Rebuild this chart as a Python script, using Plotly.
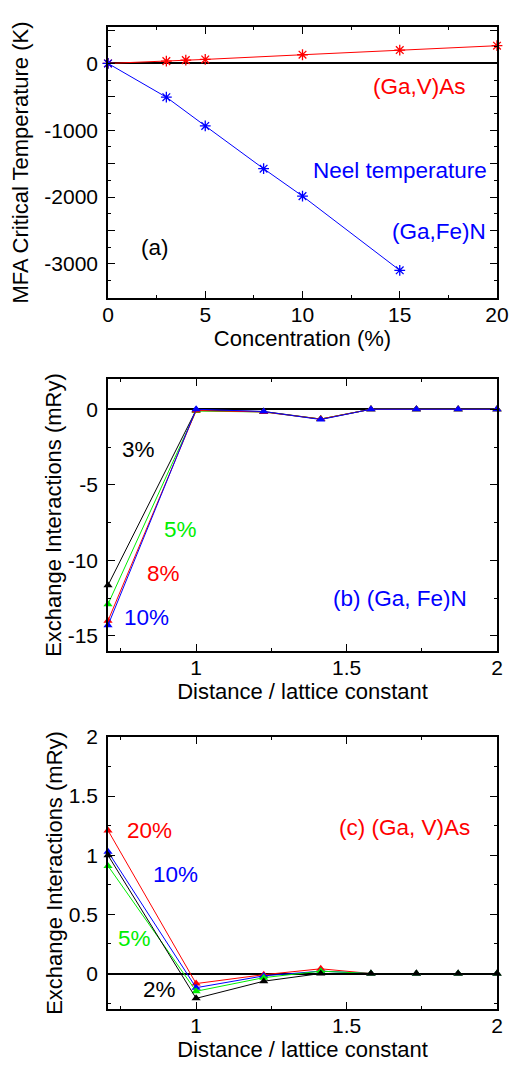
import plotly.graph_objects as go

# ---------------- data ----------------
# Panel (a): MFA critical temperature vs concentration
conc_gav = [0, 3, 4, 5, 10, 15, 20]
tc_gav = [0, 34, 50, 60, 130, 200, 265]
conc_gafen = [0, 3, 5, 8, 10, 15]
tc_gafen = [0, -505, -935, -1575, -1985, -3095]

# Panels (b), (c): exchange interactions vs distance / lattice constant
dist = [0.7071, 1.0, 1.2247, 1.4142, 1.5811, 1.7321, 1.8708, 2.0]
# (b) (Ga,Fe)N
jb_3 = [-11.65, -0.05, -0.15, -0.65, 0, 0, 0, 0]
jb_5 = [-12.9, -0.12, -0.18, -0.65, 0, 0, 0, 0]
jb_8 = [-14.0, -0.08, -0.18, -0.65, 0, 0, 0, 0]
jb_10 = [-14.3, 0.0, -0.15, -0.68, 0, 0, 0, 0]
# (c) (Ga,V)As
jc_20 = [1.21, -0.085, -0.01, 0.04, 0, 0, 0, 0]
jc_10 = [1.03, -0.12, -0.02, 0.02, 0, 0, 0, 0]
jc_5 = [0.91, -0.15, -0.035, 0.02, 0, 0, 0, 0]
jc_2 = [1.0, -0.21, -0.065, 0.0, 0, 0, 0, 0]

# tick labels
a_x_ticks = [0, 5, 10, 15, 20]
a_y_ticks = list(range(-3500, 501, 500))
a_y_labels = [("-" + str(-v) if v < 0 else str(v)) if v % 1000 == 0 else "" for v in a_y_ticks]
d_x_ticks = [1, 1.5, 2]
d_x_labels = ["1", "1.5", "2"]
b_y_ticks = [-15, -10, -5, 0]
b_y_labels = ["-15", "-10", "-5", "0"]
c_y_ticks = [0, 0.5, 1, 1.5, 2]
c_y_labels = ["0", "0.5", "1", "1.5", "2"]

RED = "#ff0000"
BLUE = "#0000ff"
GREEN = "#00ee00"
BLACK = "#000000"
FONT = "Liberation Sans, Arial, sans-serif"

fig = go.Figure()

def star(x, y, color, xa, ya):
    fig.add_trace(go.Scatter(x=x, y=y, mode="lines+markers", xaxis=xa, yaxis=ya,
                             cliponaxis=False,
                             line=dict(color=color, width=1),
                             marker=dict(symbol="asterisk-open", size=9,
                                         line=dict(color=color, width=1.3)),
                             showlegend=False))

def tri(x, y, color, xa, ya):
    fig.add_trace(go.Scatter(x=x, y=y, mode="lines+markers", xaxis=xa, yaxis=ya,
                             cliponaxis=False,
                             line=dict(color=color, width=1),
                             marker=dict(symbol="triangle-up", size=8, color=color),
                             showlegend=False))

star(conc_gav, tc_gav, RED, "x", "y")
star(conc_gafen, tc_gafen, BLUE, "x", "y")

tri(dist, jb_3, BLACK, "x2", "y2")
tri(dist, jb_5, GREEN, "x2", "y2")
tri(dist, jb_8, RED, "x2", "y2")
tri(dist, jb_10, BLUE, "x2", "y2")

tri(dist, jc_20, RED, "x3", "y3")
tri(dist, jc_10, BLUE, "x3", "y3")
tri(dist, jc_5, GREEN, "x3", "y3")
tri(dist, jc_2, BLACK, "x3", "y3")

TICKF = dict(family=FONT, size=21, color="black")
TITLEF = dict(family=FONT, size=22, color="black")

common = dict(showline=True, linecolor="black", linewidth=1.5, mirror="allticks",
              ticks="inside", ticklen=7, tickwidth=1, tickcolor="black",
              showgrid=False, zeroline=False, tickfont=TICKF, automargin=False)

fig.update_layout(
    width=513, height=1072,
    margin=dict(l=108, r=16, t=27, b=63),
    plot_bgcolor="white", paper_bgcolor="white",
    font=dict(family=FONT, size=21, color="black"),
    xaxis=dict(common, domain=[0, 1], anchor="y", range=[0, 20],
               tickvals=a_x_ticks, ticklabelstandoff=-3,
               minor=dict(ticks="inside", ticklen=3, dtick=2.5, tick0=0, tickcolor="black"),
               title=dict(text="Concentration (%)", standoff=4, font=TITLEF)),
    yaxis=dict(common, domain=[0.724, 1], anchor="x", range=[-3510, 545],
               tickvals=a_y_ticks, ticktext=a_y_labels,
               zeroline=True, zerolinecolor="black", zerolinewidth=2,
               minor=dict(ticks="inside", ticklen=3, dtick=250, tick0=0, tickcolor="black"),
               ticklabelstandoff=4,
               title=dict(text="MFA Critical Temperature (K)", standoff=10, font=TITLEF)),
    xaxis2=dict(common, domain=[0, 1], anchor="y2", range=[0.7071, 2.0],
                tickvals=d_x_ticks, ticktext=d_x_labels, ticklabelstandoff=-3,
                minor=dict(ticks="inside", ticklen=3, tickvals=[0.75, 1.25, 1.75], tickcolor="black"),
                title=dict(text="Distance / lattice constant", standoff=4, font=TITLEF)),
    yaxis2=dict(common, domain=[0.3646, 0.6415], anchor="x2", range=[-16, 2],
                tickvals=b_y_ticks, ticktext=b_y_labels,
                zeroline=True, zerolinecolor="black", zerolinewidth=2,
                minor=dict(ticks="inside", ticklen=3, dtick=2.5, tick0=0, tickcolor="black"),
                ticklabelstandoff=4,
                title=dict(text="Exchange Interactions (mRy)", standoff=0, font=TITLEF)),
    xaxis3=dict(common, domain=[0, 1], anchor="y3", range=[0.7071, 2.0],
                tickvals=d_x_ticks, ticktext=d_x_labels, ticklabelstandoff=-3,
                minor=dict(ticks="inside", ticklen=3, tickvals=[0.75, 1.25, 1.75], tickcolor="black"),
                title=dict(text="Distance / lattice constant", standoff=4, font=TITLEF)),
    yaxis3=dict(common, domain=[0, 0.277], anchor="x3", range=[-0.3, 2.0],
                tickvals=c_y_ticks, ticktext=c_y_labels,
                zeroline=True, zerolinecolor="black", zerolinewidth=2,
                minor=dict(ticks="inside", ticklen=3, dtick=0.25, tick0=0, tickcolor="black"),
                ticklabelstandoff=4,
                title=dict(text="Exchange Interactions (mRy)", standoff=0, font=TITLEF)),
)

def note(text, x, y, color, xr, yr):
    fig.add_annotation(text=text, x=x, y=y, xref=xr, yref=yr, showarrow=False,
                       font=dict(family=FONT, size=22.5, color=color),
                       xanchor="center", yanchor="middle")

note("(Ga,V)As", 16.04, -352, RED, "x", "y")
note("Neel temperature", 15.0, -1597, BLUE, "x", "y")
note("(Ga,Fe)N", 17.0, -2511, BLUE, "x", "y")
note("(a)", 2.42, -2751, BLACK, "x", "y")

note("3%", 0.807, -2.67, BLACK, "x2", "y2")
note("5%", 0.947, -7.93, GREEN, "x2", "y2")
note("8%", 0.890, -10.87, RED, "x2", "y2")
note("10%", 0.834, -13.8, BLUE, "x2", "y2")
note("(b) (Ga, Fe)N", 1.678, -12.53, BLUE, "x2", "y2")

note("20%", 0.844, 1.207, RED, "x3", "y3")
note("10%", 0.930, 0.835, BLUE, "x3", "y3")
note("5%", 0.794, 0.295, GREEN, "x3", "y3")
note("2%", 0.877, -0.135, BLACK, "x3", "y3")
note("(c) (Ga, V)As", 1.694, 1.232, RED, "x3", "y3")

# remove the browser's default 8px body margin so the figure sits at the page origin
fig.write_html("out.html", config={"displayModeBar": False},
               post_script="document.body.style.margin='0px';document.body.style.overflow='hidden';")
